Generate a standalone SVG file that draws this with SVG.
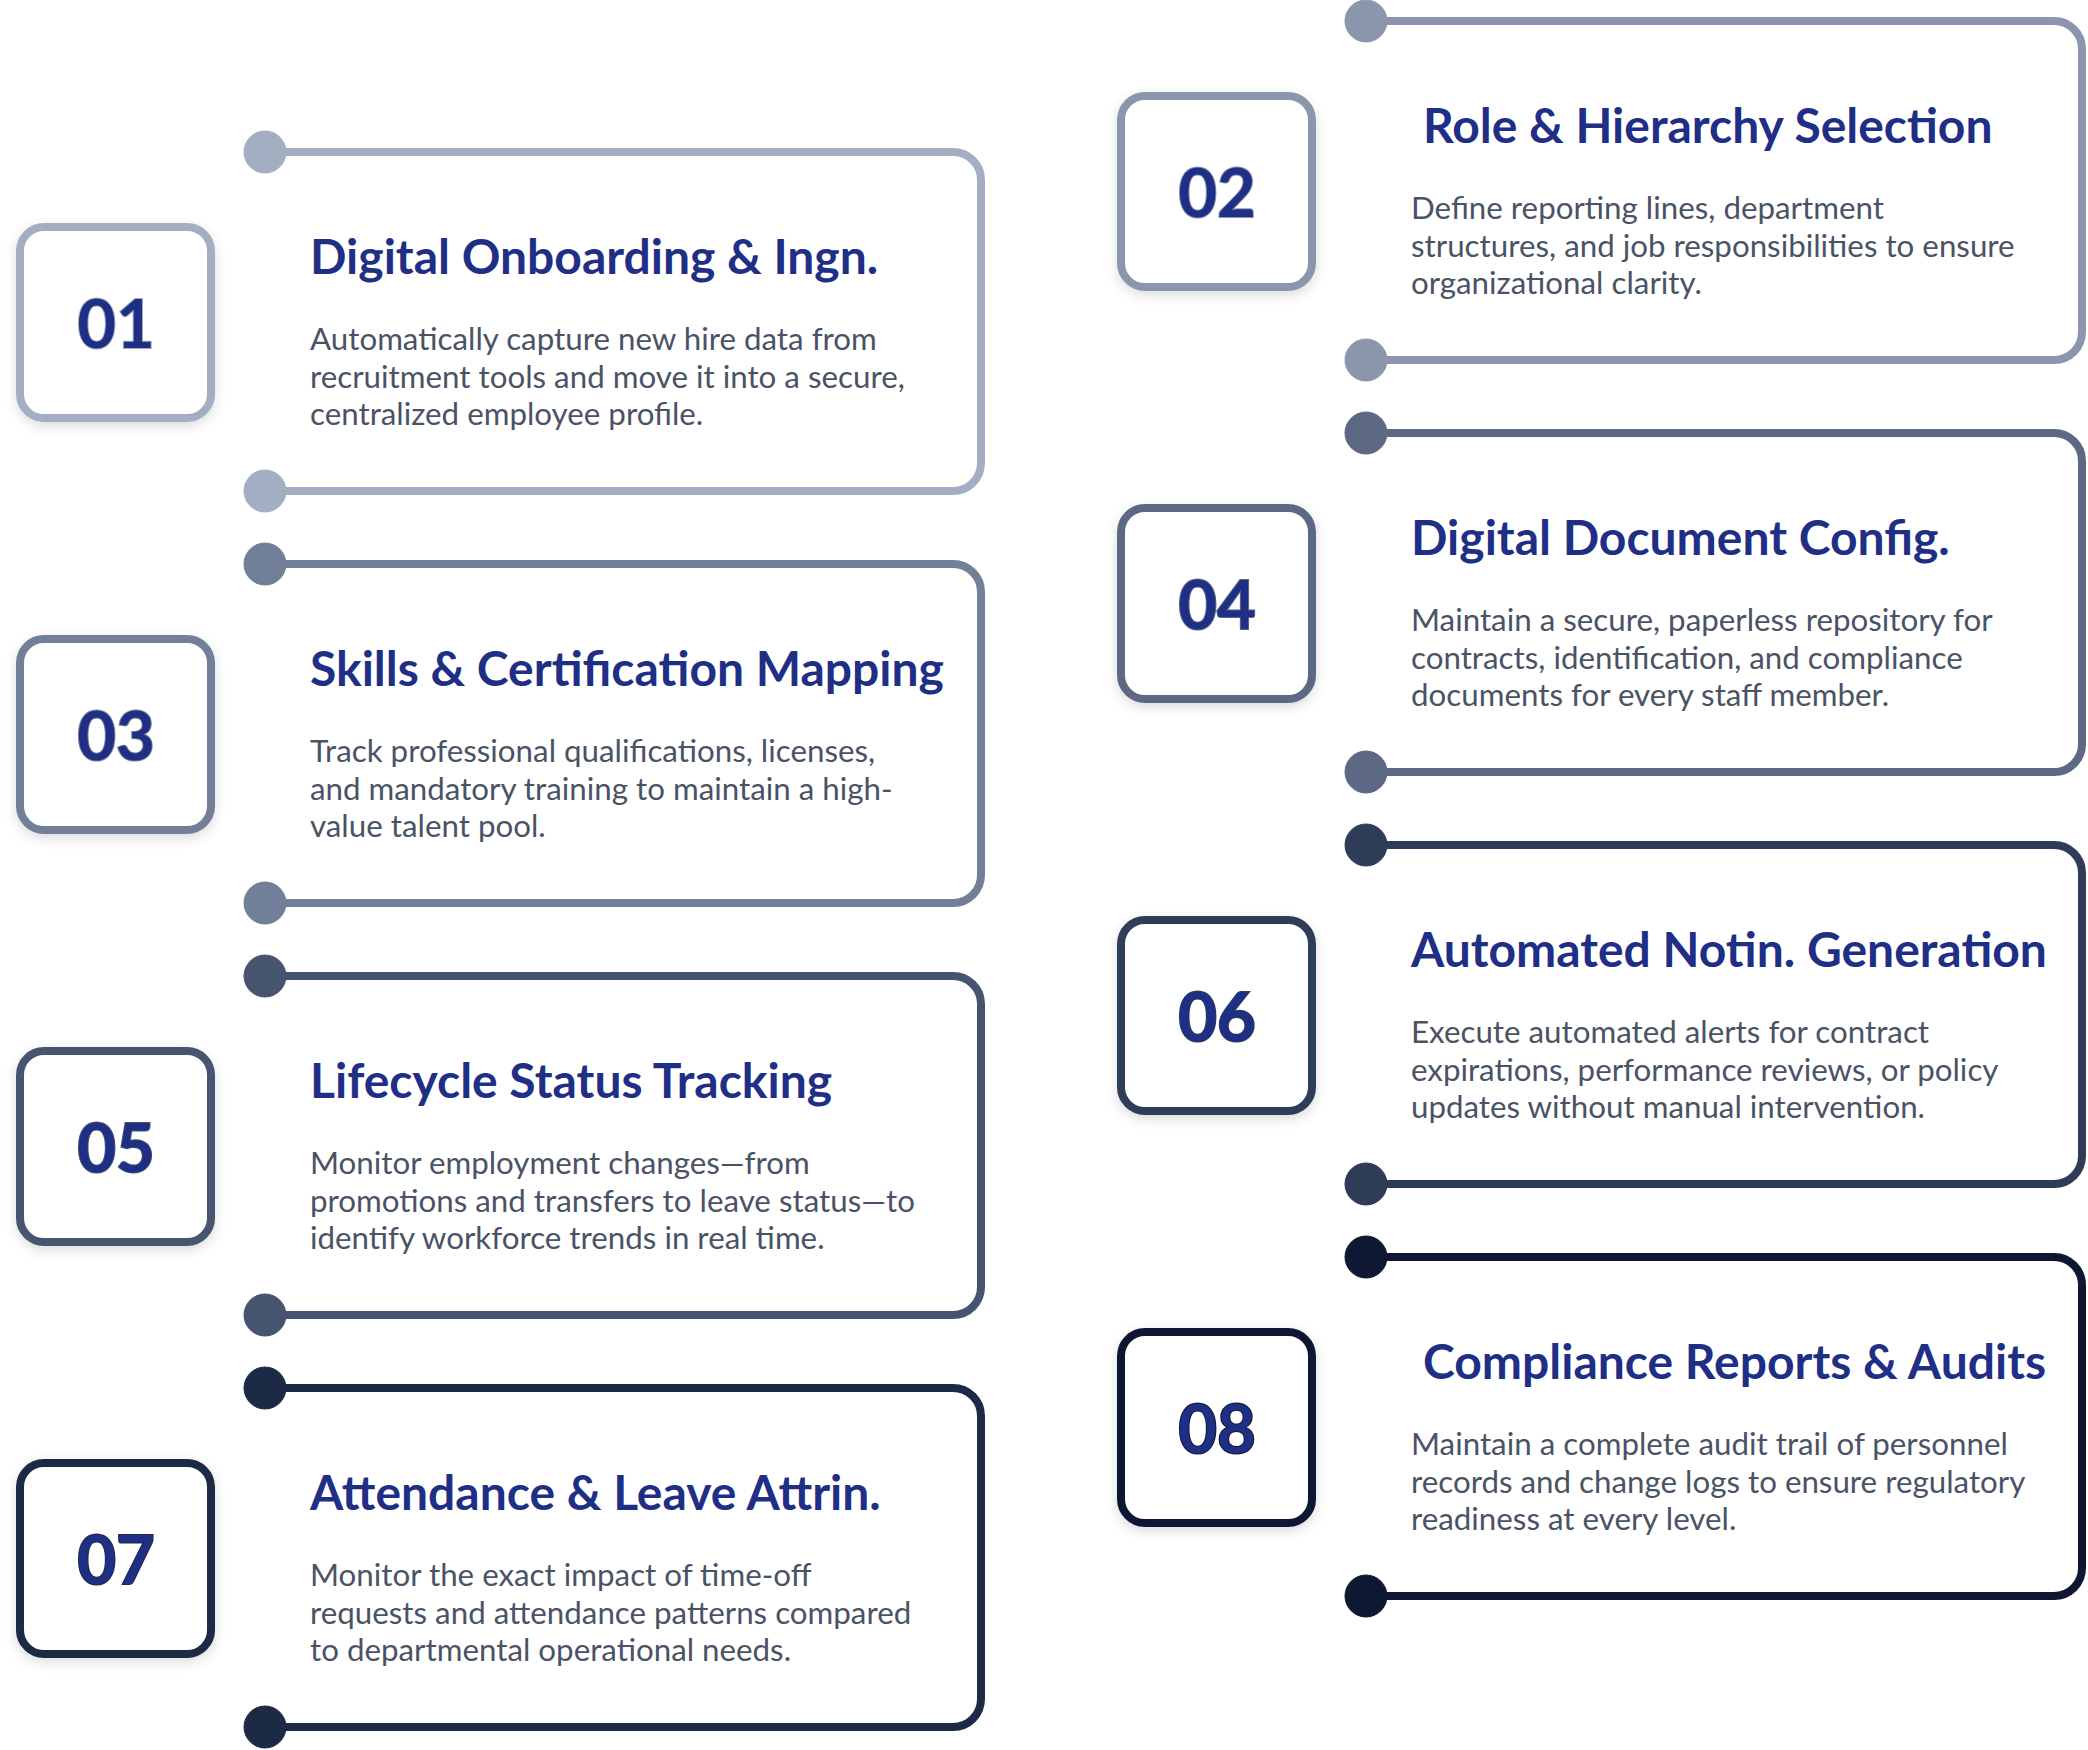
<svg xmlns="http://www.w3.org/2000/svg" width="2088" height="1750" viewBox="0 0 2088 1750">
<style>
.frame{fill:none;stroke-width:8;stroke-linejoin:round}
.box{fill:#ffffff;stroke-width:8}
.num{font-family:Lato,"Liberation Sans",sans-serif;font-weight:700;font-size:67px;fill:#1f2f86;text-anchor:middle;stroke-width:2;paint-order:stroke}
.title{font-family:Lato,"Liberation Sans",sans-serif;font-weight:700;font-size:48px;fill:#1f2f86}
.body{font-family:Lato,"Liberation Sans",sans-serif;font-weight:400;font-size:31.3px;fill:#4a5365}
.c1{stroke:#a3aec3;fill:#a3aec3}
.c2{stroke:#8b96ad;fill:#8b96ad}
.c3{stroke:#727f98;fill:#727f98}
.c4{stroke:#5c6884;fill:#5c6884}
.c5{stroke:#465470;fill:#465470}
.c6{stroke:#2e3c58;fill:#2e3c58}
.c7{stroke:#1c2a45;fill:#1c2a45}
.c8{stroke:#0e1832;fill:#0e1832}
</style>
<defs>
<filter id="sh" x="-20%" y="-20%" width="140%" height="140%">
<feDropShadow dx="0" dy="4" stdDeviation="6" flood-color="#000" flood-opacity="0.14"/>
</filter>
</defs>
<rect width="2088" height="1750" fill="#ffffff"/>
<g id="connectors"></g>

<g id="node-01">
<path class="frame c1" style="fill:none" d="M265,152 H953 A28,28 0 0 1 981,180 V463 A28,28 0 0 1 953,491 H265"/>
<circle class="c1" cx="265" cy="152" r="21"/>
<circle class="c1" cx="265" cy="491" r="21"/>
<rect class="box c1" style="fill:#fff" x="20" y="227" width="191" height="191" rx="24" filter="url(#sh)"/>
<text class="num c1" style="fill:#1f2f86" x="116" y="348">01</text>
<text class="title" x="310" y="274">Digital Onboarding &amp; Ingn.</text>
<text class="body" x="310" y="350">Automatically capture new hire data from</text>
<text class="body" x="310" y="388">recruitment tools and move it into a secure,</text>
<text class="body" x="310" y="425">centralized employee profile.</text>
</g>

<g id="node-02">
<path class="frame c2" style="fill:none" d="M1366,21 H2054 A28,28 0 0 1 2082,49 V332 A28,28 0 0 1 2054,360 H1366"/>
<circle class="c2" cx="1366" cy="21" r="21"/>
<circle class="c2" cx="1366" cy="360" r="21"/>
<rect class="box c2" style="fill:#fff" x="1121" y="96" width="191" height="191" rx="24" filter="url(#sh)"/>
<text class="num c2" style="fill:#1f2f86" x="1217" y="217">02</text>
<text class="title" x="1423" y="143">Role &amp; Hierarchy Selection</text>
<text class="body" x="1411" y="219">Define reporting lines, department</text>
<text class="body" x="1411" y="257">structures, and job responsibilities to ensure</text>
<text class="body" x="1411" y="294">organizational clarity.</text>
</g>

<g id="node-03">
<path class="frame c3" style="fill:none" d="M265,564 H953 A28,28 0 0 1 981,592 V875 A28,28 0 0 1 953,903 H265"/>
<circle class="c3" cx="265" cy="564" r="21"/>
<circle class="c3" cx="265" cy="903" r="21"/>
<rect class="box c3" style="fill:#fff" x="20" y="639" width="191" height="191" rx="24" filter="url(#sh)"/>
<text class="num c3" style="fill:#1f2f86" x="116" y="760">03</text>
<text class="title" x="310" y="686">Skills &amp; Certification Mapping</text>
<text class="body" x="310" y="762">Track professional qualifications, licenses,</text>
<text class="body" x="310" y="800">and mandatory training to maintain a high-</text>
<text class="body" x="310" y="837">value talent pool.</text>
</g>

<g id="node-04">
<path class="frame c4" style="fill:none" d="M1366,433 H2054 A28,28 0 0 1 2082,461 V744 A28,28 0 0 1 2054,772 H1366"/>
<circle class="c4" cx="1366" cy="433" r="21"/>
<circle class="c4" cx="1366" cy="772" r="21"/>
<rect class="box c4" style="fill:#fff" x="1121" y="508" width="191" height="191" rx="24" filter="url(#sh)"/>
<text class="num c4" style="fill:#1f2f86" x="1217" y="629">04</text>
<text class="title" x="1411" y="555">Digital Document Config.</text>
<text class="body" x="1411" y="631">Maintain a secure, paperless repository for</text>
<text class="body" x="1411" y="669">contracts, identification, and compliance</text>
<text class="body" x="1411" y="706">documents for every staff member.</text>
</g>

<g id="node-05">
<path class="frame c5" style="fill:none" d="M265,976 H953 A28,28 0 0 1 981,1004 V1287 A28,28 0 0 1 953,1315 H265"/>
<circle class="c5" cx="265" cy="976" r="21"/>
<circle class="c5" cx="265" cy="1315" r="21"/>
<rect class="box c5" style="fill:#fff" x="20" y="1051" width="191" height="191" rx="24" filter="url(#sh)"/>
<text class="num c5" style="fill:#1f2f86" x="116" y="1172">05</text>
<text class="title" x="310" y="1098">Lifecycle Status Tracking</text>
<text class="body" x="310" y="1174">Monitor employment changes—from</text>
<text class="body" x="310" y="1212">promotions and transfers to leave status—to</text>
<text class="body" x="310" y="1249">identify workforce trends in real time.</text>
</g>

<g id="node-06">
<path class="frame c6" style="fill:none" d="M1366,845 H2054 A28,28 0 0 1 2082,873 V1156 A28,28 0 0 1 2054,1184 H1366"/>
<circle class="c6" cx="1366" cy="845" r="21"/>
<circle class="c6" cx="1366" cy="1184" r="21"/>
<rect class="box c6" style="fill:#fff" x="1121" y="920" width="191" height="191" rx="24" filter="url(#sh)"/>
<text class="num c6" style="fill:#1f2f86" x="1217" y="1041">06</text>
<text class="title" x="1411" y="967">Automated Notin. Generation</text>
<text class="body" x="1411" y="1043">Execute automated alerts for contract</text>
<text class="body" x="1411" y="1081">expirations, performance reviews, or policy</text>
<text class="body" x="1411" y="1118">updates without manual intervention.</text>
</g>

<g id="node-07">
<path class="frame c7" style="fill:none" d="M265,1388 H953 A28,28 0 0 1 981,1416 V1699 A28,28 0 0 1 953,1727 H265"/>
<circle class="c7" cx="265" cy="1388" r="21"/>
<circle class="c7" cx="265" cy="1727" r="21"/>
<rect class="box c7" style="fill:#fff" x="20" y="1463" width="191" height="191" rx="24" filter="url(#sh)"/>
<text class="num c7" style="fill:#1f2f86" x="116" y="1584">07</text>
<text class="title" x="310" y="1510">Attendance &amp; Leave Attrin.</text>
<text class="body" x="310" y="1586">Monitor the exact impact of time-off</text>
<text class="body" x="310" y="1624">requests and attendance patterns compared</text>
<text class="body" x="310" y="1661">to departmental operational needs.</text>
</g>

<g id="node-08">
<path class="frame c8" style="fill:none" d="M1366,1257 H2054 A28,28 0 0 1 2082,1285 V1568 A28,28 0 0 1 2054,1596 H1366"/>
<circle class="c8" cx="1366" cy="1257" r="21"/>
<circle class="c8" cx="1366" cy="1596" r="21"/>
<rect class="box c8" style="fill:#fff" x="1121" y="1332" width="191" height="191" rx="24" filter="url(#sh)"/>
<text class="num c8" style="fill:#1f2f86" x="1217" y="1453">08</text>
<text class="title" x="1423" y="1379">Compliance Reports &amp; Audits</text>
<text class="body" x="1411" y="1455">Maintain a complete audit trail of personnel</text>
<text class="body" x="1411" y="1493">records and change logs to ensure regulatory</text>
<text class="body" x="1411" y="1530">readiness at every level.</text>
</g>
</svg>
